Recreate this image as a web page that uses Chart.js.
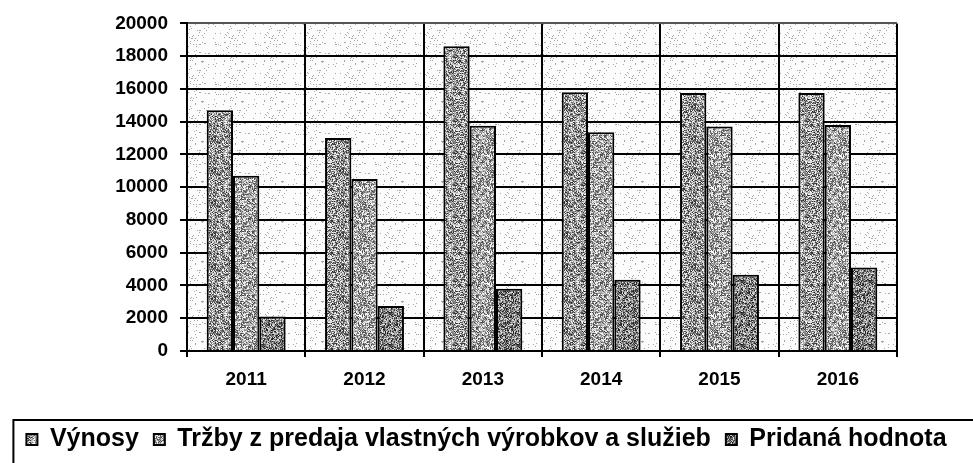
<!DOCTYPE html>
<html>
<head>
<meta charset="utf-8">
<script src="https://cdn.jsdelivr.net/npm/chart.js@4/dist/chart.umd.min.js"></script>
<style>
  html, body { margin: 0; padding: 0; background: #fff; }
  #wrap { width: 973px; height: 463px; }
</style>
</head>
<body>
<div id="wrap"><canvas id="chart"></canvas></div>
<script>
const years = ["2011", "2012", "2013", "2014", "2015", "2016"];
const vynosy = [14700, 13000, 18600, 15800, 15750, 15750];
const trzby = [10700, 10500, 13750, 13350, 13700, 13800];
const pridana = [2100, 2750, 3800, 4350, 4650, 5100];
const seriesNames = ["Výnosy", "Tržby z predaja vlastných výrobkov a služieb", "Pridaná hodnota"];

const FONT = "'Liberation Sans', Arial, sans-serif";

// fixed pixel hash, gives the grainy look of the scanned print
const grain = (x, y, k) => {
  let h = Math.imul(x + 1, 374761393) ^ Math.imul(y + 7, 668265263) ^ Math.imul(k, 2246822519);
  h = Math.imul(h ^ (h >>> 13), 1274126177);
  return ((h ^ (h >>> 16)) >>> 0) / 4294967296;
};

const texture = (base, spread, k) => {
  const c = document.createElement("canvas");
  c.width = c.height = 32;
  const g = c.getContext("2d");
  const img = g.createImageData(32, 32);
  for (let y = 0; y < 32; y++) {
    for (let x = 0; x < 32; x++) {
      const v = Math.max(0, Math.min(255, Math.round(base + (grain(x, y, k) - 0.5) * spread)));
      const i = (y * 32 + x) * 4;
      img.data[i] = img.data[i + 1] = img.data[i + 2] = v;
      img.data[i + 3] = 255;
    }
  }
  g.putImageData(img, 0, 0);
  return g.createPattern(c, "repeat");
};

const speckle = () => {
  const c = document.createElement("canvas");
  c.width = c.height = 40;
  const g = c.getContext("2d");
  g.fillStyle = "#fcfcfc";
  g.fillRect(0, 0, 40, 40);
  g.fillStyle = "#a6a6a6";
  for (let y = 0; y < 40; y++) {
    for (let x = 0; x < 40; x++) {
      if (grain(x, y, 9) < 0.06) g.fillRect(x, y, 1, 1);
    }
  }
  return g.createPattern(c, "repeat");
};

const bgFill = speckle();
const fills = [texture(150, 230, 1), texture(168, 210, 2), texture(128, 220, 3)];

const plotBackground = {
  id: "plotBackground",
  beforeDraw(chart) {
    const { ctx, chartArea: a } = chart;
    ctx.save();
    ctx.fillStyle = bgFill;
    ctx.fillRect(a.left, a.top, a.right - a.left, a.bottom - a.top);
    ctx.restore();
  },
};

const legendFrame = {
  id: "legendFrame",
  afterDraw(chart) {
    const boxes = chart.legend.legendHitBoxes;
    if (!boxes || !boxes.length) return;
    const x0 = boxes[0].left - 13;
    const y0 = boxes[0].top - 7;
    const { ctx } = chart;
    ctx.save();
    ctx.strokeStyle = "#000";
    ctx.lineWidth = 2;
    ctx.beginPath();
    ctx.moveTo(x0, chart.height + 5);
    ctx.lineTo(x0, y0);
    ctx.lineTo(chart.width + 5, y0);
    ctx.stroke();
    ctx.restore();
  },
};

new Chart(document.getElementById("chart"), {
  type: "bar",
  data: {
    labels: years,
    datasets: [vynosy, trzby, pridana].map((values, i) => ({
      label: seriesNames[i],
      data: values,
      backgroundColor: fills[i],
      borderColor: "#000",
      borderWidth: 2,
      categoryPercentage: 0.667,
      barPercentage: 1.0,
    })),
  },
  options: {
    responsive: true,
    maintainAspectRatio: false,
    animation: false,
    layout: { padding: { top: 15, left: 0, right: 0, bottom: 1 } },
    plugins: {
      tooltip: { enabled: false },
      legend: {
        display: true,
        position: "bottom",
        labels: {
          color: "#000",
          boxWidth: 11,
          boxHeight: 11,
          padding: 15,
          font: { family: FONT, size: 25, weight: "bold" },
        },
      },
    },
    scales: {
      x: {
        grid: {
          offset: true,
          color: (c) => (c.index === years.length ? "#8a8a8a" : "#000"),
          lineWidth: (c) => (c.index === years.length ? 1 : 2),
          tickColor: "#000",
          tickLength: 6,
        },
        border: { color: "#000", width: 2 },
        ticks: {
          color: "#000",
          padding: 11,
          font: { family: FONT, size: 19, weight: "bold" },
        },
        afterFit: (s) => { s.height = 61; },
      },
      y: {
        min: 0,
        max: 20000,
        grid: {
          color: (c) => (c.tick && c.tick.value === 20000 ? "#555" : "#000"),
          lineWidth: 2,
          tickColor: "#000",
          tickLength: 7,
        },
        border: { color: "#000", width: 2 },
        ticks: {
          stepSize: 2000,
          color: "#000",
          padding: 12,
          font: { family: FONT, size: 19, weight: "bold" },
          callback: (v) => String(v),
        },
        afterFit: (s) => { s.width = 187; },
      },
      yRight: {
        position: "right",
        grid: { display: false },
        border: { display: false },
        ticks: { display: false },
        afterFit: (s) => { s.width = 76; },
      },
    },
  },
  plugins: [plotBackground, legendFrame],
});
</script>
</body>
</html>
